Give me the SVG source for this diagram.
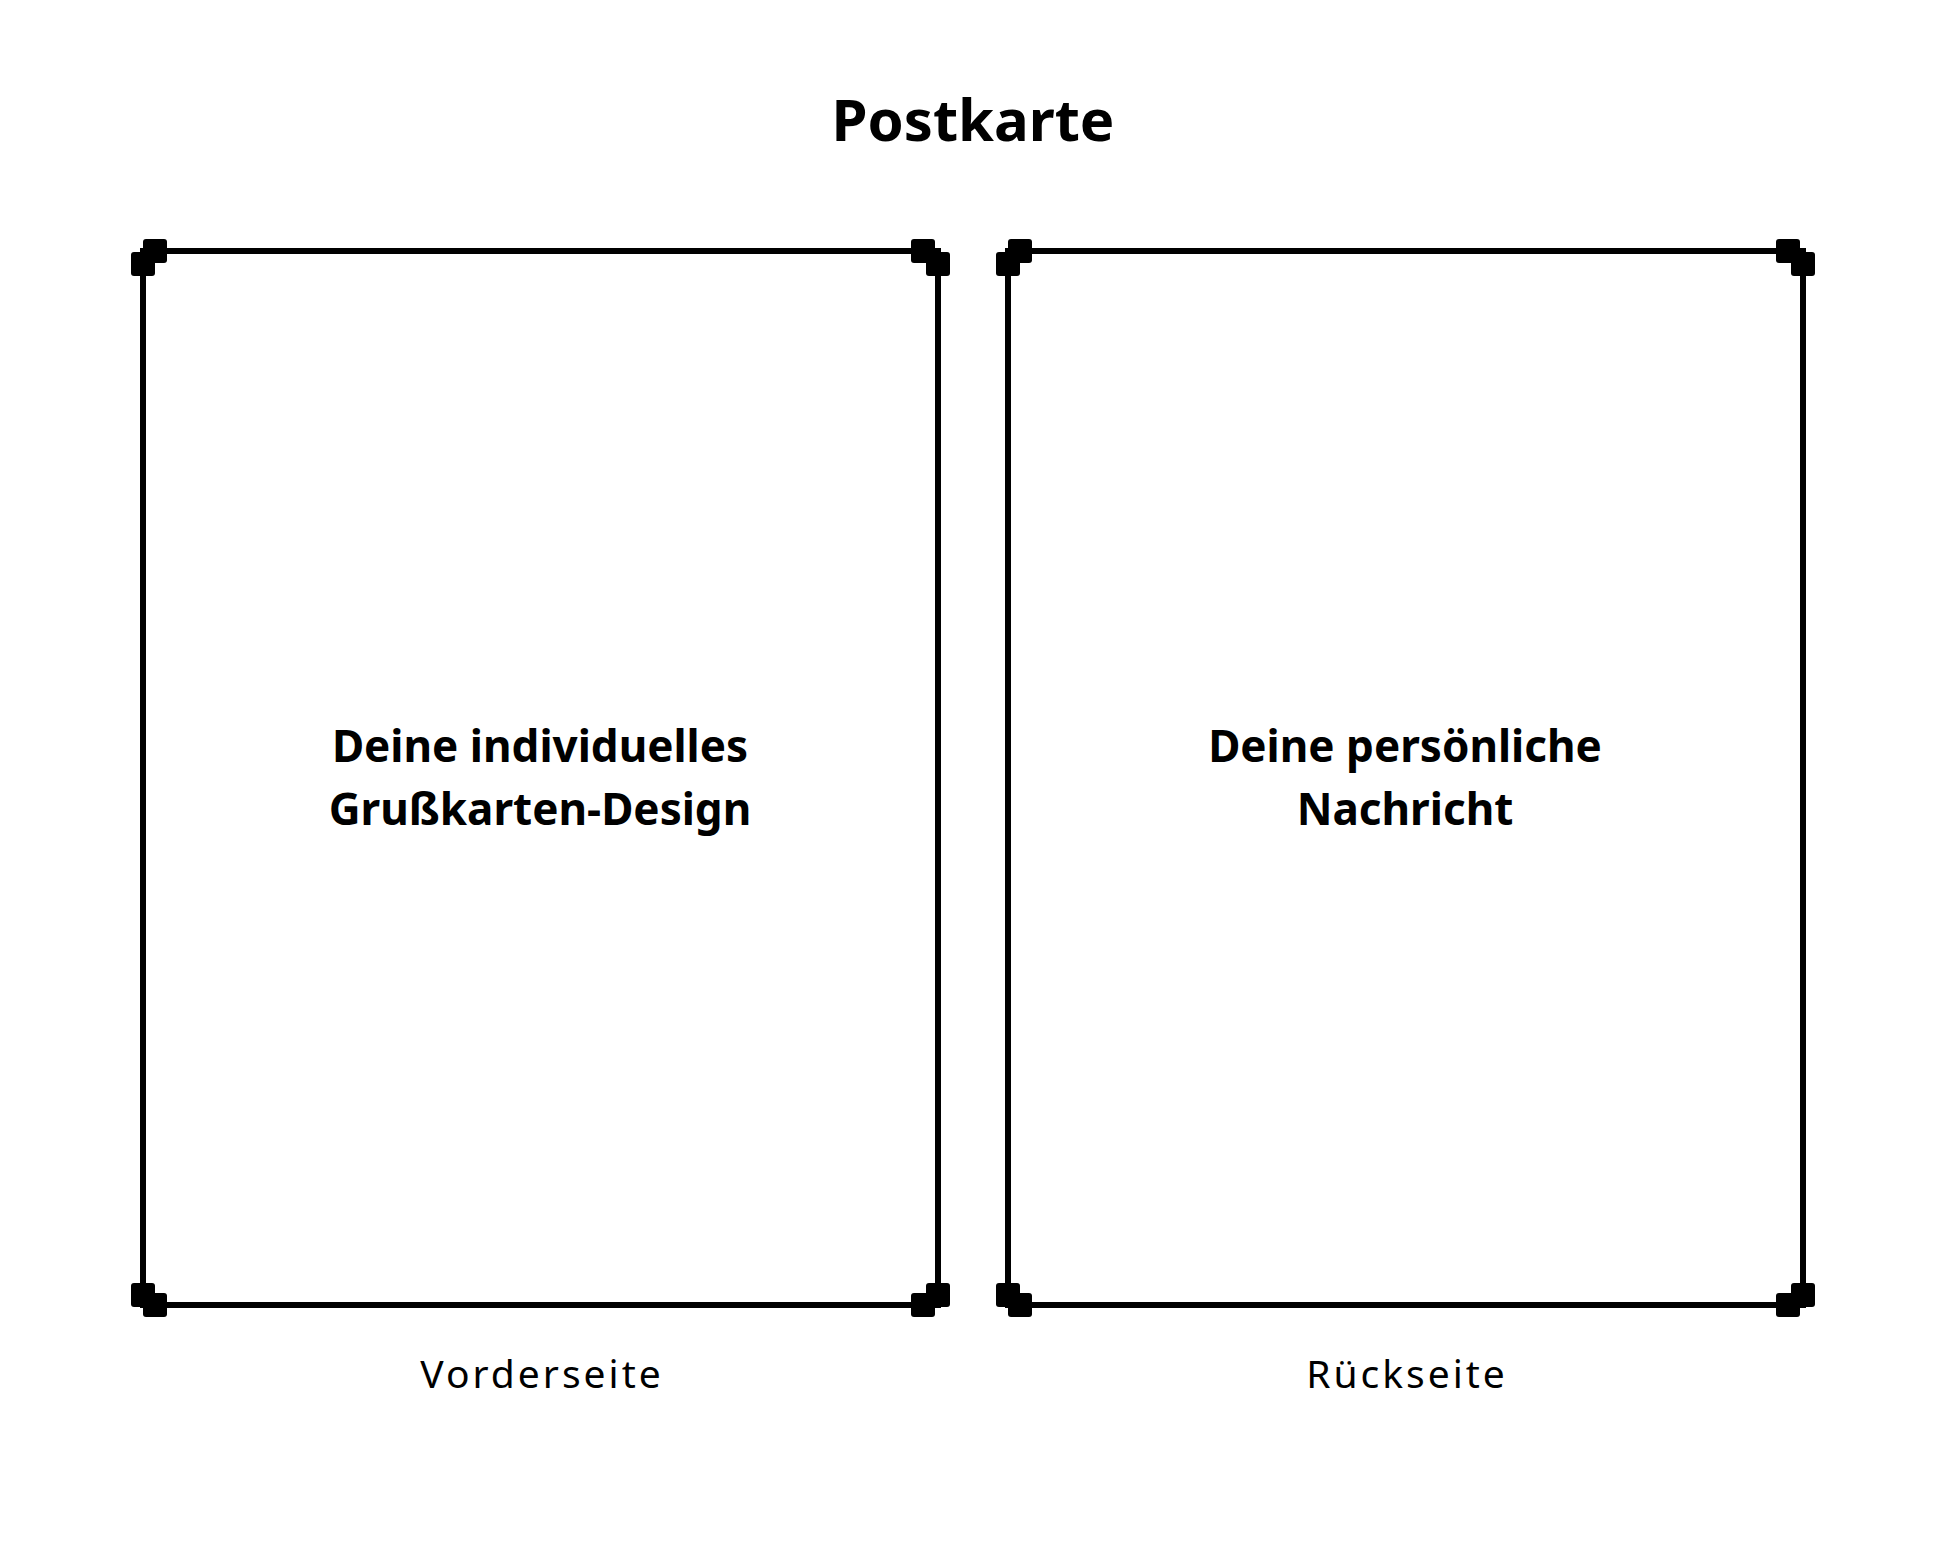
<svg xmlns="http://www.w3.org/2000/svg" width="1946" height="1557" viewBox="0 0 1946 1557">
<style>
.frame{fill:none;stroke:#000;stroke-width:6}
.sq{fill:#000}
.title{font-family:"Noto Sans","Open Sans",sans-serif;font-weight:700;font-size:58px;fill:#000;text-anchor:middle}
.body{font-family:"Noto Sans","Open Sans",sans-serif;font-weight:700;font-size:44px;fill:#000;text-anchor:middle}
.cap{font-family:"Noto Sans","Open Sans",sans-serif;font-weight:400;font-size:39px;letter-spacing:3px;fill:#000;text-anchor:middle}
</style>
<rect width="1946" height="1557" fill="#fff"/>
<g id="title"><text class="title" x="973" y="141">Postkarte</text></g>
<g id="vorderseite">
<rect class="frame" x="143" y="251" width="795" height="1054"/>
<rect class="sq" x="143" y="239" width="24" height="24" rx="3"/>
<rect class="sq" x="131" y="252" width="24" height="24" rx="3"/>
<rect class="sq" x="911" y="239" width="24" height="24" rx="3"/>
<rect class="sq" x="926" y="252" width="24" height="24" rx="3"/>
<rect class="sq" x="131" y="1283" width="24" height="24" rx="3"/>
<rect class="sq" x="143" y="1293" width="24" height="24" rx="3"/>
<rect class="sq" x="926" y="1283" width="24" height="24" rx="3"/>
<rect class="sq" x="911" y="1293" width="24" height="24" rx="3"/>
<text class="body" x="540" y="762">Deine individuelles</text>
<text class="body" x="540" y="825">Grußkarten-Design</text>
<text class="cap" x="542" y="1388">Vorderseite</text>
</g>
<g id="rueckseite">
<rect class="frame" x="1008" y="251" width="795" height="1054"/>
<rect class="sq" x="1008" y="239" width="24" height="24" rx="3"/>
<rect class="sq" x="996" y="252" width="24" height="24" rx="3"/>
<rect class="sq" x="1776" y="239" width="24" height="24" rx="3"/>
<rect class="sq" x="1791" y="252" width="24" height="24" rx="3"/>
<rect class="sq" x="996" y="1283" width="24" height="24" rx="3"/>
<rect class="sq" x="1008" y="1293" width="24" height="24" rx="3"/>
<rect class="sq" x="1791" y="1283" width="24" height="24" rx="3"/>
<rect class="sq" x="1776" y="1293" width="24" height="24" rx="3"/>
<text class="body" x="1405" y="762">Deine persönliche</text>
<text class="body" x="1405" y="825">Nachricht</text>
<text class="cap" x="1407" y="1388">Rückseite</text>
</g>
<g id="connectors"></g>
</svg>
